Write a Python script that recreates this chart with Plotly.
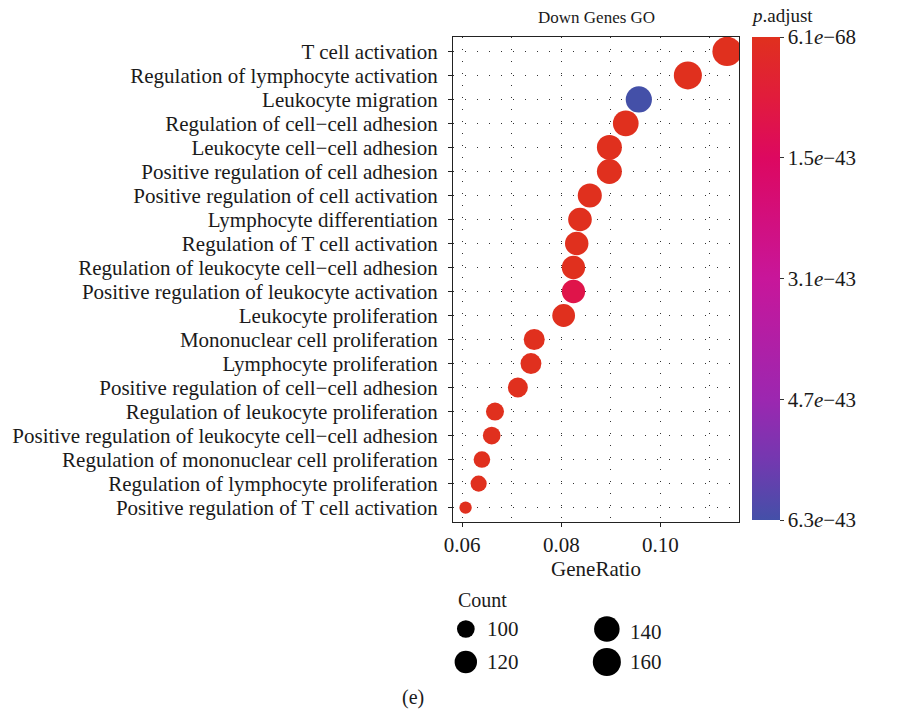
import numpy as np
import plotly.graph_objects as go

# ---------------- data ----------------
terms = [
    "T cell activation",
    "Regulation of lymphocyte activation",
    "Leukocyte migration",
    "Regulation of cell\u2212cell adhesion",
    "Leukocyte cell\u2212cell adhesion",
    "Positive regulation of cell adhesion",
    "Positive regulation of cell activation",
    "Lymphocyte differentiation",
    "Regulation of T cell activation",
    "Regulation of leukocyte cell\u2212cell adhesion",
    "Positive regulation of leukocyte activation",
    "Leukocyte proliferation",
    "Mononuclear cell proliferation",
    "Lymphocyte proliferation",
    "Positive regulation of cell\u2212cell adhesion",
    "Regulation of leukocyte proliferation",
    "Positive regulation of leukocyte cell\u2212cell adhesion",
    "Regulation of mononuclear cell proliferation",
    "Regulation of lymphocyte proliferation",
    "Positive regulation of T cell activation",
]
counts = [172, 160, 145, 141, 136, 136, 130, 127, 126, 125,
          125, 122, 113, 112, 108, 101, 100, 97, 96, 92]
total_genes = 1516
p_adjust = [6.1e-68, 2.0e-60, 6.3e-43, 5.0e-55, 3.0e-54, 8.0e-54, 1.0e-50, 2.0e-50, 5.0e-50, 1.0e-49,
            1.1e-43, 3.0e-47, 4.0e-46, 6.0e-46, 2.0e-46, 8.0e-46, 5.0e-46, 9.0e-46, 9.0e-46, 7.0e-46]

x_ticks = [0.06, 0.08, 0.10]
x_tick_labels = ["0.06", "0.08", "0.10"]
cbar_tick_labels = ["6.1<i>e</i>\u221268", "1.5<i>e</i>\u221243", "3.1<i>e</i>\u221243",
                    "4.7<i>e</i>\u221243", "6.3<i>e</i>\u221243"]
legend_counts = [100, 120, 140, 160]
legend_labels = ["100", "120", "140", "160"]

# ---------------- styling / scales ----------------
FONT = "Liberation Serif"
FS = 21
FS_TITLE = 17
TXT = "#1a1a1a"
D_MIN, D_MAX = 12.3, 29.4   # point diameter range (px)
cmin_c, cmax_c = min(counts), max(counts)


def size_scale(c):
    c = np.asarray(c, dtype=float)
    return D_MIN + (D_MAX - D_MIN) * np.sqrt(np.clip((c - cmin_c) / (cmax_c - cmin_c), 0, None))


gene_ratio = [c / total_genes for c in counts]
ypos = list(range(len(terms)))
neg_p = [-p for p in p_adjust]
pmin, pmax = min(p_adjust), max(p_adjust)
cbar_vals = [-(pmin + k * (pmax - pmin) / 4) for k in range(5)]

colorscale = [
    [0.0, "#4450A8"],
    [0.125, "#7438B0"],
    [0.25, "#9C27B0"],
    [0.5, "#C8169A"],
    [0.75, "#DD0860"],
    [0.875, "#E11C3C"],
    [1.0, "#E0301E"],
]

W, H = 911, 714
ML, MR, MT, MB = 449, 172, 37, 20
plot_w = W - ML - MR
plot_h = H - MT - MB
panel_bottom_px = 522
ydom0 = (H - MB - panel_bottom_px) / plot_h
CB_LEFT_PX = 752

fig = go.Figure()
fig.add_trace(go.Scatter(
    x=gene_ratio, y=ypos, mode="markers",
    marker=dict(size=size_scale(counts), color=neg_p, colorscale=colorscale,
                cmin=-pmax, cmax=-pmin, line=dict(width=0), opacity=1,
                colorbar=dict(
                    x=(CB_LEFT_PX - ML) / plot_w, xanchor="left", xpad=0,
                    y=1, yanchor="top", ypad=0,
                    thickness=28, lenmode="pixels", len=483,
                    outlinewidth=0, ticks="outside", ticklen=4, tickcolor="#333",
                    tickvals=cbar_vals, ticktext=cbar_tick_labels,
                    tickfont=dict(family=FONT, size=FS, color=TXT),
                )),
    showlegend=False, hoverinfo="skip",
))

# size legend
leg_x = [13, 13, 156, 156]
leg_y = [629, 662, 629, 662]
fig.add_trace(go.Scatter(
    x=leg_x, y=leg_y, mode="markers", xaxis="x2", yaxis="y2",
    marker=dict(size=size_scale(legend_counts), color="black", opacity=1, line=dict(width=0)),
    showlegend=False, hoverinfo="skip",
))
lab_x = [35, 35, 180, 180]
lab_y = [629, 662, 632, 662]
annotations = []
for lx, ly, t in zip(lab_x, lab_y, legend_labels):
    annotations.append(dict(x=lx, y=ly, xref="x2", yref="y2", text=t, showarrow=False,
                            xanchor="left", yanchor="middle", xshift=-3,
                            font=dict(family=FONT, size=FS, color=TXT)))
annotations.append(dict(x=6, y=600, xref="x2", yref="y2", text="Count", showarrow=False,
                        xanchor="left", yanchor="middle", xshift=-3,
                        font=dict(family=FONT, size=20, color=TXT)))
annotations.append(dict(x=0.5, y=1, xref="paper", yref="paper", yshift=20, text="Down Genes GO",
                        showarrow=False, xanchor="center", yanchor="middle",
                        font=dict(family=FONT, size=FS_TITLE, color=TXT)))
annotations.append(dict(x=(CB_LEFT_PX - ML) / plot_w, y=1, xref="paper", yref="paper", yshift=22,
                        text="<i>p</i>.adjust", showarrow=False, xanchor="left",
                        yanchor="middle", xshift=-3,
                        font=dict(family=FONT, size=19, color=TXT)))
annotations.append(dict(x=(412 - ML) / plot_w, y=(H - MB - 697) / plot_h, xref="paper",
                        yref="paper", text="(e)", showarrow=False, xanchor="center",
                        yanchor="middle", xshift=-4, font=dict(family=FONT, size=20, color=TXT)))

grid = dict(showgrid=True, gridcolor="#333333", gridwidth=1, griddash="1px,11px")

fig.update_layout(
    width=W, height=H,
    margin=dict(l=ML, r=MR, t=MT, b=MB),
    paper_bgcolor="white", plot_bgcolor="white",
    font=dict(family=FONT, size=FS, color=TXT),
    xaxis=dict(
        range=[0.05815, 0.11586], tickvals=x_ticks, ticktext=x_tick_labels,
        ticks="outside", ticklen=4, tickcolor="#222", tickwidth=1,
        showline=True, linecolor="#222", linewidth=1.3, mirror=True,
        zeroline=False, anchor="y", ticklabelstandoff=0,
        tickfont=dict(family=FONT, size=FS, color=TXT),
        title=dict(text="GeneRatio", standoff=2, font=dict(family=FONT, size=FS, color=TXT)),
        minor=dict(dtick=0.01, tick0=0.06, showgrid=True, gridcolor="#333333",
                   griddash="1px,11px", ticks=""),
        **grid,
    ),
    yaxis=dict(
        domain=[ydom0, 1], range=[len(terms) - 0.4, -0.6],
        tickvals=ypos, ticktext=terms,
        ticks="outside", ticklen=4, tickcolor="#222", tickwidth=1,
        showline=True, linecolor="#222", linewidth=1.3, mirror=True,
        zeroline=False, anchor="x", ticklabelstandoff=6,
        tickfont=dict(family=FONT, size=FS, color=TXT),
        **grid,
    ),
    xaxis2=dict(domain=[0, 1], range=[0, plot_w], visible=False, anchor="y2"),
    yaxis2=dict(domain=[0, (H - MB - 580) / plot_h], range=[H - MB, 580], visible=False,
                anchor="x2"),
    annotations=annotations,
)

fig.write_html("out.html")
